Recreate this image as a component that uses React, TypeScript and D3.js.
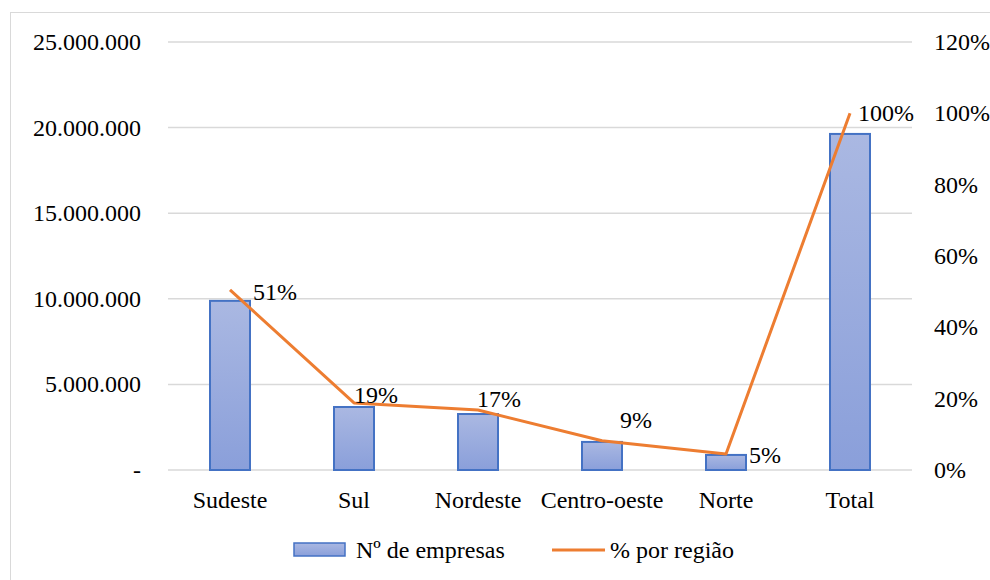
import React from "react";
import * as d3 from "d3";

const categories = ["Sudeste", "Sul", "Nordeste", "Centro-oeste", "Norte", "Total"];
const empresas = [9880000, 3680000, 3270000, 1640000, 880000, 19630000];
const percentual = [50.5, 18.8, 16.8, 8.2, 4.5, 100];
const percentLabels = ["51%", "19%", "17%", "9%", "5%", "100%"];
const leftTicks = [0, 5000000, 10000000, 15000000, 20000000, 25000000];
const rightTicks = [0, 20, 40, 60, 80, 100, 120];
// label anchor offsets (px) from each line point
const labelOffsets: [number, number][] = [[23, 10], [0, 0], [-1, -3], [18, -13], [23, 9], [8, 8]];

const W = 990, H = 580;
const M = { left: 168, right: 912, top: 42, bottom: 470 };
const FONT = "Liberation Serif";
const FS = 24;
const txt = { fontFamily: FONT, fontSize: FS, fill: "#000" } as React.CSSProperties;

function fmt(v: number) {
  if (v === 0) return "-";
  return d3.format(",")(v).replace(/,/g, ".");
}

export default function App() {
  const x = d3.scaleBand<string>().domain(categories).range([M.left, M.right]);
  const yL = d3.scaleLinear().domain([0, 25000000]).range([M.bottom, M.top]);
  const yR = d3.scaleLinear().domain([0, 120]).range([M.bottom, M.top]);
  const barW = 40;
  const cx = (c: string) => (x(c) as number) + x.bandwidth() / 2;
  const line = d3
    .line<number>()
    .x((_, i) => cx(categories[i]))
    .y((d) => yR(d));

  return (
    <svg width={W} height={H} style={{ position: "absolute", left: 0, top: 0, background: "#fff" }} fontFamily={FONT}>
      <defs>
        <linearGradient id="barGrad" x1="0" y1="0" x2="0" y2="1">
          <stop offset="0%" stopColor="#aab8e2" />
          <stop offset="100%" stopColor="#8a9fda" />
        </linearGradient>
      </defs>
      <rect x={0} y={0} width={W} height={H} fill="#fff" />
      <rect x={10.5} y={12.5} width={W} height={H} fill="none" stroke="#d9d9d9" strokeWidth={1} />
      {leftTicks.map((t) => (
        <line key={"g" + t} x1={M.left} x2={M.right} y1={yL(t)} y2={yL(t)} stroke="#d9d9d9" strokeWidth={1.5} />
      ))}
      {leftTicks.map((t) => (
        <text key={"l" + t} x={141} y={yL(t) + 8} textAnchor="end" style={txt}>
          {fmt(t)}
        </text>
      ))}
      {rightTicks.map((t) => (
        <text key={"r" + t} x={934} y={yR(t) + 8} textAnchor="start" style={txt}>
          {t + "%"}
        </text>
      ))}
      {categories.map((c, i) => (
        <rect
          key={"b" + c}
          x={cx(c) - barW / 2}
          y={yL(empresas[i])}
          width={barW}
          height={M.bottom - yL(empresas[i])}
          fill="url(#barGrad)"
          stroke="#4472c4"
          strokeWidth={2}
        />
      ))}
      {categories.map((c) => (
        <text key={"c" + c} x={cx(c)} y={508} textAnchor="middle" style={txt}>
          {c}
        </text>
      ))}
      <path d={line(percentual) || ""} fill="none" stroke="#ed7d31" strokeWidth={3} strokeLinejoin="round" />
      {categories.map((c, i) => (
        <text
          key={"p" + c}
          x={cx(c) + labelOffsets[i][0]}
          y={yR(percentual[i]) + labelOffsets[i][1]}
          textAnchor="start"
          style={txt}
        >
          {percentLabels[i]}
        </text>
      ))}
      <g>
        <rect x={294} y={543} width={51} height={13} fill="url(#barGrad)" stroke="#4472c4" strokeWidth={1.5} />
        <text x={356} y={558} style={txt}>Nº de empresas</text>
        <line x1={552} x2={605} y1={550} y2={550} stroke="#ed7d31" strokeWidth={3} />
        <text x={610} y={558} style={txt}>% por região</text>
      </g>
    </svg>
  );
}
